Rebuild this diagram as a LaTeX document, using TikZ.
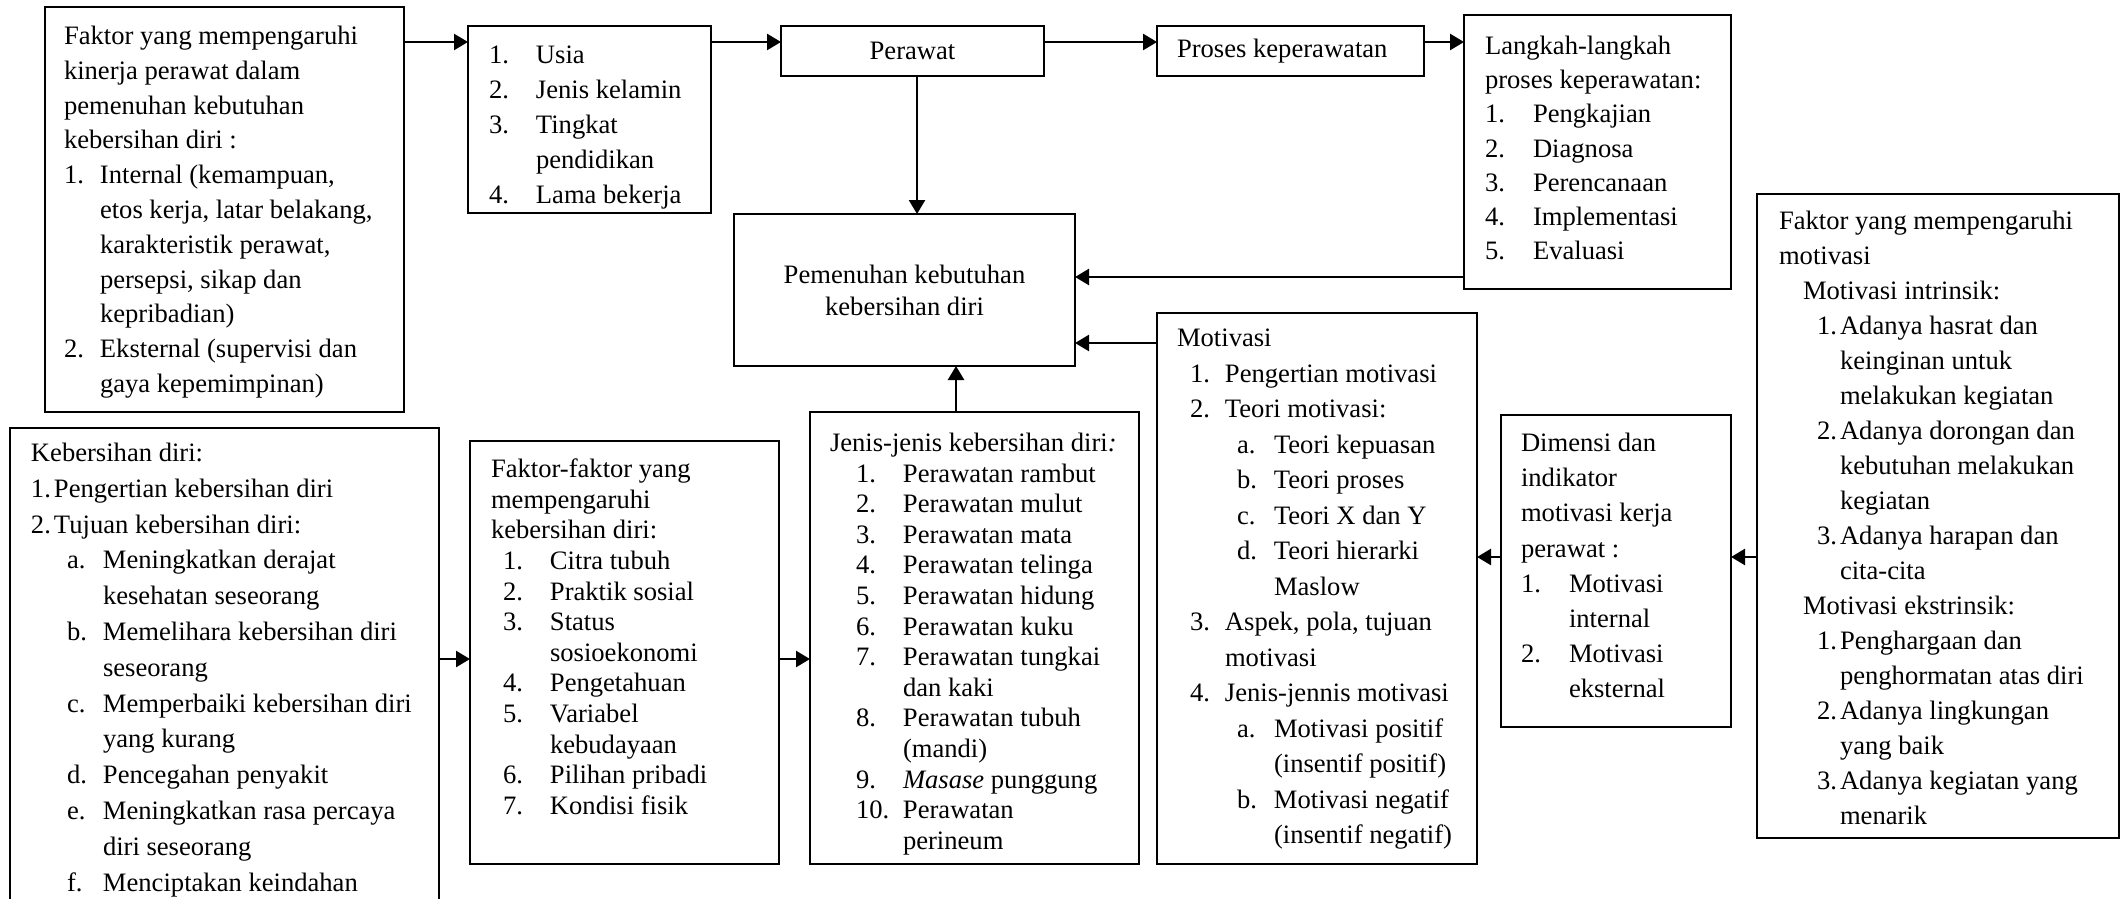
\documentclass[tikz,border=0pt]{standalone}
\usepackage{fontspec}
\setmainfont{Liberation Serif}
\usetikzlibrary{arrows.meta}
\newcommand\nm[2]{\makebox[#1][l]{#2}}
\newcommand\bx[5]{\node[box,minimum width={(#4-#2)*0.5pt},minimum height={(#5-#3)*0.5pt}] (#1) at (#2,#3) {};}
\begin{document}
\begin{tikzpicture}[x=0.5pt,y=-0.5pt,
  box/.style={draw,line width=1pt,inner sep=0pt,outer sep=0pt,anchor=north west},
  txt/.style={inner sep=0pt,outer sep=0pt,anchor=north west,align=left,font=\fontsize{13.3}{#1}\selectfont},
  txt/.default=17.5,
  arr/.style={line width=1.25pt,-{Triangle[length=7pt,width=8pt]}}]
\path[use as bounding box,clip] (0,0) rectangle (2126,899);
\fill[white] (0,0) rectangle (2126,899);
% boxes
\bx{A}{45}{7}{404}{412}
\bx{U}{468}{26}{711}{213}
\bx{P}{781}{26}{1044}{76}
\bx{PK}{1157}{26}{1424}{76}
\bx{L}{1464}{15}{1731}{289}
\bx{PM}{734}{214}{1075}{366}
\bx{M}{1157}{313}{1477}{864}
\bx{FM}{1757}{194}{2119}{838}
\bx{D}{1501}{415}{1731}{727}
\bx{K}{10}{428}{439}{930}
\bx{FF}{470}{441}{779}{864}
\bx{J}{810}{412}{1139}{864}
% texts
\node[txt=17.4] (tA) at (64,26) {Faktor yang mempengaruhi\\
kinerja perawat dalam\\
pemenuhan kebutuhan\\
kebersihan diri :\\
\nm{18pt}{1.}Internal (kemampuan,\\
\hspace*{18pt}etos kerja, latar belakang,\\
\hspace*{18pt}karakteristik perawat,\\
\hspace*{18pt}persepsi, sikap dan\\
\hspace*{18pt}kepribadian)\\
\nm{18pt}{2.}Eksternal (supervisi dan\\
\hspace*{18pt}gaya kepemimpinan)};
\node[txt=17.5] (tU) at (489,46) {\nm{23.5pt}{1.}Usia\\
\nm{23.5pt}{2.}Jenis kelamin\\
\nm{23.5pt}{3.}Tingkat\\
\hspace*{23.5pt}pendidikan\\
\nm{23.5pt}{4.}Lama bekerja};
\node[txt] (tP) at (P.center) [anchor=center] {Perawat};
\node[txt,anchor=west] (tPK) at (1177,51) {Proses keperawatan};
\node[txt=17.1] (tL) at (1485,36) {Langkah-langkah\\
proses keperawatan:\\
\nm{24pt}{1.}Pengkajian\\
\nm{24pt}{2.}Diagnosa\\
\nm{24pt}{3.}Perencanaan\\
\nm{24pt}{4.}Implementasi\\
\nm{24pt}{5.}Evaluasi};
\node[txt=16,align=center,anchor=center] (tPM) at (PM.center) {Pemenuhan kebutuhan\\kebersihan diri};
\node[txt=17.75] (tM) at (1177,329) {Motivasi\\
\hspace*{6.5pt}\nm{17.5pt}{1.}Pengertian motivasi\\
\hspace*{6.5pt}\nm{17.5pt}{2.}Teori motivasi:\\
\hspace*{30pt}\nm{18.5pt}{a.}Teori kepuasan\\
\hspace*{30pt}\nm{18.5pt}{b.}Teori proses\\
\hspace*{30pt}\nm{18.5pt}{c.}Teori X dan Y\\
\hspace*{30pt}\nm{18.5pt}{d.}Teori hierarki\\
\hspace*{48.5pt}Maslow\\
\hspace*{6.5pt}\nm{17.5pt}{3.}Aspek, pola, tujuan\\
\hspace*{24pt}motivasi\\
\hspace*{6.5pt}\nm{17.5pt}{4.}Jenis-jennis motivasi\\
\hspace*{30pt}\nm{18.5pt}{a.}Motivasi positif\\
\hspace*{48.5pt}(insentif positif)\\
\hspace*{30pt}\nm{18.5pt}{b.}Motivasi negatif\\
\hspace*{48.5pt}(insentif negatif)};
\node[txt=17.5] (tFM) at (1779,211) {Faktor yang mempengaruhi\\
motivasi\\
\hspace*{12pt}Motivasi intrinsik:\\
\hspace*{19pt}\nm{11.5pt}{1.}Adanya hasrat dan\\
\hspace*{30.5pt}keinginan untuk\\
\hspace*{30.5pt}melakukan kegiatan\\
\hspace*{19pt}\nm{11.5pt}{2.}Adanya dorongan dan\\
\hspace*{30.5pt}kebutuhan melakukan\\
\hspace*{30.5pt}kegiatan\\
\hspace*{19pt}\nm{11.5pt}{3.}Adanya harapan dan\\
\hspace*{30.5pt}cita-cita\\
\hspace*{12pt}Motivasi ekstrinsik:\\
\hspace*{19pt}\nm{11.5pt}{1.}Penghargaan dan\\
\hspace*{30.5pt}penghormatan atas diri\\
\hspace*{19pt}\nm{11.5pt}{2.}Adanya lingkungan\\
\hspace*{30.5pt}yang baik\\
\hspace*{19pt}\nm{11.5pt}{3.}Adanya kegiatan yang\\
\hspace*{30.5pt}menarik};
\node[txt=17.6] (tD) at (1521,433) {Dimensi dan\\
indikator\\
motivasi kerja\\
perawat :\\
\nm{24pt}{1.}Motivasi\\
\hspace*{24pt}internal\\
\nm{24pt}{2.}Motivasi\\
\hspace*{24pt}eksternal};
\node[txt=17.9] (tK) at (31,443) {Kebersihan diri:\\
\nm{11.5pt}{1.}Pengertian kebersihan diri\\
\nm{11.5pt}{2.}Tujuan kebersihan diri:\\
\hspace*{18pt}\nm{18pt}{a.}Meningkatkan derajat\\
\hspace*{36pt}kesehatan seseorang\\
\hspace*{18pt}\nm{18pt}{b.}Memelihara kebersihan diri\\
\hspace*{36pt}seseorang\\
\hspace*{18pt}\nm{18pt}{c.}Memperbaiki kebersihan diri\\
\hspace*{36pt}yang kurang\\
\hspace*{18pt}\nm{18pt}{d.}Pencegahan penyakit\\
\hspace*{18pt}\nm{18pt}{e.}Meningkatkan rasa percaya\\
\hspace*{36pt}diri seseorang\\
\hspace*{18pt}\nm{18pt}{f.}Menciptakan keindahan};
\node[txt=15.3] (tFF) at (491,459) {Faktor-faktor yang\\
mempengaruhi\\
kebersihan diri:\\
\hspace*{6pt}\nm{23.5pt}{1.}Citra tubuh\\
\hspace*{6pt}\nm{23.5pt}{2.}Praktik sosial\\
\hspace*{6pt}\nm{23.5pt}{3.}Status\\
\hspace*{29.5pt}sosioekonomi\\
\hspace*{6pt}\nm{23.5pt}{4.}Pengetahuan\\
\hspace*{6pt}\nm{23.5pt}{5.}Variabel\\
\hspace*{29.5pt}kebudayaan\\
\hspace*{6pt}\nm{23.5pt}{6.}Pilihan pribadi\\
\hspace*{6pt}\nm{23.5pt}{7.}Kondisi fisik};
\node[txt=15.3] (tJ) at (830,433) {Jenis-jenis kebersihan diri\textit{:}\\
\hspace*{13pt}\nm{23.5pt}{1.}Perawatan rambut\\
\hspace*{13pt}\nm{23.5pt}{2.}Perawatan mulut\\
\hspace*{13pt}\nm{23.5pt}{3.}Perawatan mata\\
\hspace*{13pt}\nm{23.5pt}{4.}Perawatan telinga\\
\hspace*{13pt}\nm{23.5pt}{5.}Perawatan hidung\\
\hspace*{13pt}\nm{23.5pt}{6.}Perawatan kuku\\
\hspace*{13pt}\nm{23.5pt}{7.}Perawatan tungkai\\
\hspace*{36.5pt}dan kaki\\
\hspace*{13pt}\nm{23.5pt}{8.}Perawatan tubuh\\
\hspace*{36.5pt}(mandi)\\
\hspace*{13pt}\nm{23.5pt}{9.}\textit{Masase} punggung\\
\hspace*{13pt}\nm{23.5pt}{10.}Perawatan\\
\hspace*{36.5pt}perineum};
% connectors
\coordinate (r1) at (0,42);
\coordinate (r2) at (0,277);
\coordinate (r3) at (0,343);
\coordinate (r4) at (0,659);
\coordinate (r5) at (0,557);
\coordinate (c1) at (917,0);
\coordinate (c2) at (956,0);
\draw[arr] (A.east|-r1) -- (U.west|-r1);
\draw[arr] (U.east|-r1) -- (P.west|-r1);
\draw[arr] (P.east|-r1) -- (PK.west|-r1);
\draw[arr] (PK.east|-r1) -- (L.west|-r1);
\draw[arr] (P.south-|c1) -- (PM.north-|c1);
\draw[arr] (L.west|-r2) -- (PM.east|-r2);
\draw[arr] (M.west|-r3) -- (PM.east|-r3);
\draw[arr] (J.north-|c2) -- (PM.south-|c2);
\draw[arr] (K.east|-r4) -- (FF.west|-r4);
\draw[arr] (FF.east|-r4) -- (J.west|-r4);
\draw[arr] (D.west|-r5) -- (M.east|-r5);
\draw[arr] (FM.west|-r5) -- (D.east|-r5);
\end{tikzpicture}
\end{document}
